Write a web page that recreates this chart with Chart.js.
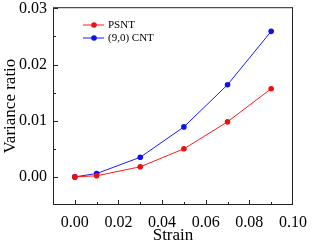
<!DOCTYPE html>
<html>
<head>
<meta charset="utf-8">
<script src="https://cdn.jsdelivr.net/npm/chart.js@4.4.0/dist/chart.umd.min.js"></script>
<style>
  html, body { margin: 0; padding: 0; background: #fff; }
  #wrap { width: 315px; height: 242px; position: relative; }
</style>
</head>
<body>
<div id="wrap"><canvas id="chart"></canvas></div>
<script>
const strain = [0.00, 0.01, 0.03, 0.05, 0.07, 0.09];
const psnt = [0.0000, 0.0002, 0.0018, 0.0050, 0.0098, 0.0157];
const cnt = [0.0000, 0.0006, 0.0035, 0.0089, 0.0164, 0.0259];
const seriesNames = ['PSNT', '(9,0) CNT'];
const xTicks = [0.00, 0.02, 0.04, 0.06, 0.08, 0.10];
const yTicks = [0.00, 0.01, 0.02, 0.03];

const FONT = 'Liberation Serif, Times New Roman, serif';

// frame, inside ticks and legend
const framePlugin = {
    id: 'frame',
    afterDraw(chart) {
        const { ctx, chartArea: a, scales } = chart;
        ctx.save();
        ctx.strokeStyle = '#222';
        ctx.lineWidth = 1;
        ctx.strokeRect(a.left + 0.5, a.top + 0.5, a.right - a.left - 1, a.bottom - a.top - 1);

        ctx.beginPath();
        for (let i = -1; i <= 10; i++) {
            const v = i / 100;
            const x = Math.round(scales.x.getPixelForValue(v)) + 0.5;
            if (x <= a.left + 1 || x >= a.right - 1) continue;
            const len = (i % 2 === 0) ? 5 : 3;
            ctx.moveTo(x, a.bottom);
            ctx.lineTo(x, a.bottom - len);
        }
        for (let i = 0; i <= 6; i++) {
            const v = i * 0.005;
            const y = Math.round(scales.y.getPixelForValue(v)) + 0.5;
            if (y <= a.top + 1 || y >= a.bottom - 1) continue;
            const len = (i % 2 === 0) ? 5 : 3;
            ctx.moveTo(a.left, y);
            ctx.lineTo(a.left + len, y);
        }
        ctx.stroke();

        // legend
        ctx.font = '11px ' + FONT;
        ctx.textBaseline = 'middle';
        chart.data.datasets.forEach((ds, i) => {
            const y = 25 + i * 13;
            ctx.strokeStyle = ds.borderColor;
            ctx.lineWidth = 1;
            ctx.beginPath();
            ctx.moveTo(83, y);
            ctx.lineTo(104, y);
            ctx.stroke();
            ctx.fillStyle = ds.backgroundColor;
            ctx.beginPath();
            ctx.arc(94, y, 2.8, 0, Math.PI * 2);
            ctx.fill();
            ctx.fillStyle = '#000';
            ctx.fillText(ds.label, 108, y + 0.5);
        });
        ctx.restore();
    }
};

new Chart(document.getElementById('chart'), {
    type: 'line',
    data: {
        datasets: [
            {
                label: seriesNames[0],
                data: strain.map((s, i) => ({ x: s, y: psnt[i] })),
                borderColor: '#ff1a1a',
                backgroundColor: '#ee1010',
                borderWidth: 1,
                pointRadius: 2.8,
                pointBorderWidth: 0
            },
            {
                label: seriesNames[1],
                data: strain.map((s, i) => ({ x: s, y: cnt[i] })),
                borderColor: '#1a1aff',
                backgroundColor: '#1010ee',
                borderWidth: 1,
                pointRadius: 2.8,
                pointBorderWidth: 0
            }
        ]
    },
    options: {
        responsive: true,
        maintainAspectRatio: false,
        animation: false,
        layout: { padding: { top: 0, right: 0, left: 0, bottom: 0 } },
        plugins: { legend: { display: false }, tooltip: { enabled: false } },
        scales: {
            x: {
                type: 'linear',
                min: -0.01,
                max: 0.10,
                afterBuildTicks: s => { s.ticks = xTicks.map(v => ({ value: v })); },
                afterFit: s => { s.height = 37; },
                grid: { display: false, drawTicks: false },
                border: { display: false },
                ticks: {
                    padding: 8,
                    color: '#000',
                    font: { family: FONT, size: 16 },
                    maxRotation: 0,
                    callback: v => v.toFixed(2)
                },
                title: {
                    display: true,
                    text: 'Strain',
                    color: '#000',
                    font: { family: FONT, size: 17 },
                    padding: { top: 0, bottom: -4 }
                }
            },
            y: {
                min: -0.005,
                max: 0.0302,
                afterBuildTicks: s => { s.ticks = yTicks.map(v => ({ value: v })); },
                afterFit: s => { s.width = 53; },
                grid: { display: false, drawTicks: false },
                border: { display: false },
                ticks: {
                    padding: 6,
                    color: '#000',
                    font: { family: FONT, size: 16, lineHeight: 0.15 },
                    callback: v => v.toFixed(2)
                },
                title: {
                    display: true,
                    text: 'Variance ratio',
                    color: '#000',
                    font: { family: FONT, size: 17 },
                    padding: { top: 0, bottom: 0 }
                }
            }
        }
    },
    plugins: [framePlugin]
});
</script>
</body>
</html>
